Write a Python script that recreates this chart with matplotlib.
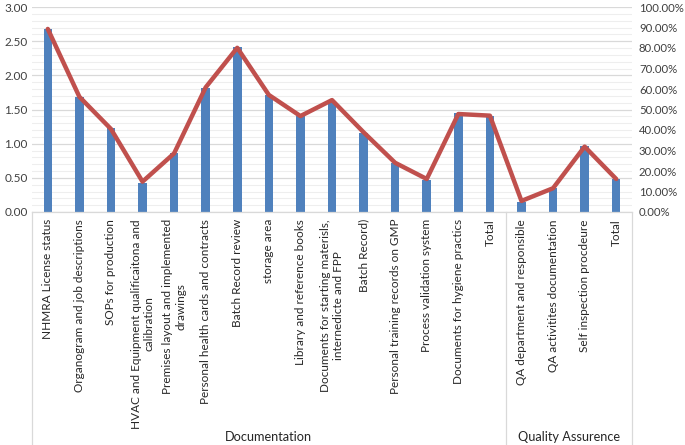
import numpy as np
import matplotlib.pyplot as plt
from matplotlib.lines import Line2D
from matplotlib.ticker import MultipleLocator, FuncFormatter
import matplotlib.transforms as mtransforms

plt.rcParams['font.family'] = ['Lato', 'DejaVu Sans']

categories = [
    "NHMRA License status",
    "Organogram and job descriptions",
    "SOPs for production",
    "HVAC and Equipment qualificaitona and\ncalibration",
    "Premises layout and implemented\ndrawings",
    "Personal health cards and contracts",
    "Batch Record review",
    "storage area",
    "Library and reference books",
    "Documents for starting materisls,\ninternedicte and FPP",
    "Batch Record)",
    "Personal training records on GMP",
    "Process validation system",
    "Documents for hygiene practics",
    "Total",
    "QA department and responsible",
    "QA activitites documentation",
    "Self inspection procdeure",
    "Total",
]
groups = ["Documentation", "Quality Assurence"]
group_sizes = [15, 4]

scores = [2.68, 1.68, 1.23, 0.43, 0.87, 1.81, 2.41, 1.71, 1.40, 1.62,
          1.16, 0.72, 0.47, 1.45, 1.41, 0.15, 0.35, 0.96, 0.48]
percent = [89.3, 56.2, 40.5, 14.8, 28.6, 60.8, 80.1, 57.1, 46.8, 54.6,
           38.9, 24.0, 16.1, 47.8, 47.0, 5.4, 11.6, 31.9, 16.1]

BAR_COLOR = "#4F81BD"
LINE_COLOR = "#C0504D"
TEXT_COLOR = "#404040"

fig = plt.figure(figsize=(6.85, 4.45), dpi=100)
ax = fig.add_axes([32 / 685, (445 - 212) / 445, 600 / 685, 205 / 445])
x = np.arange(len(categories))

ax.bar(x, scores, width=0.27, color=BAR_COLOR, zorder=2)
ax.set_xlim(-0.5, len(categories) - 0.5)
ax.set_ylim(0, 3.0)
ax.yaxis.set_major_locator(MultipleLocator(0.5))
ax.yaxis.set_minor_locator(MultipleLocator(0.1))
ax.yaxis.set_major_formatter(FuncFormatter(lambda v, _: f"{v:.2f}"))
ax.grid(axis="y", which="major", color="#D9D9D9", lw=0.9, zorder=0)
ax.grid(axis="y", which="minor", color="#EEEEEE", lw=0.8, zorder=0)
ax.set_axisbelow(True)
for s in ax.spines.values():
    s.set_visible(False)
ax.tick_params(axis="y", which="both", length=0, labelsize=8.5, colors=TEXT_COLOR, pad=3)
ax.set_xticks([])

ax2 = ax.twinx()
ax2.plot(x, percent, color=LINE_COLOR, lw=3.2, solid_capstyle="round", zorder=3)
ax2.set_ylim(0, 100)
ax2.yaxis.set_major_locator(MultipleLocator(10))
ax2.yaxis.set_major_formatter(FuncFormatter(lambda v, _: f"{v:.2f}%"))
for s in ax2.spines.values():
    s.set_visible(False)
ax2.tick_params(axis="y", length=0, labelsize=8.2, colors=TEXT_COLOR, pad=5)

# multi-level category axis
trans = mtransforms.blended_transform_factory(ax.transData, fig.transFigure)
label_top = (445 - 219) / 445
for xi, lab in zip(x, categories):
    fig.text(xi, label_top, lab, transform=trans, rotation=90, ha="center",
             va="top", multialignment="center", fontsize=8.5, color="#262626")

line_kw = dict(color="#D9D9D9", lw=0.9, transform=trans, clip_on=False)
bounds = np.concatenate([[0], np.cumsum(group_sizes)]) - 0.5
fig.add_artist(Line2D([bounds[0], bounds[-1]], [(445 - 212) / 445] * 2, **line_kw))
for b in bounds:
    fig.add_artist(Line2D([b, b], [0, (445 - 212) / 445], **line_kw))
for g, lo, hi in zip(groups, bounds[:-1], bounds[1:]):
    fig.text((lo + hi) / 2, 8 / 445, g, transform=trans, ha="center",
             va="center", fontsize=9.2, color="#262626")

fig.savefig("out.png", dpi=100)
